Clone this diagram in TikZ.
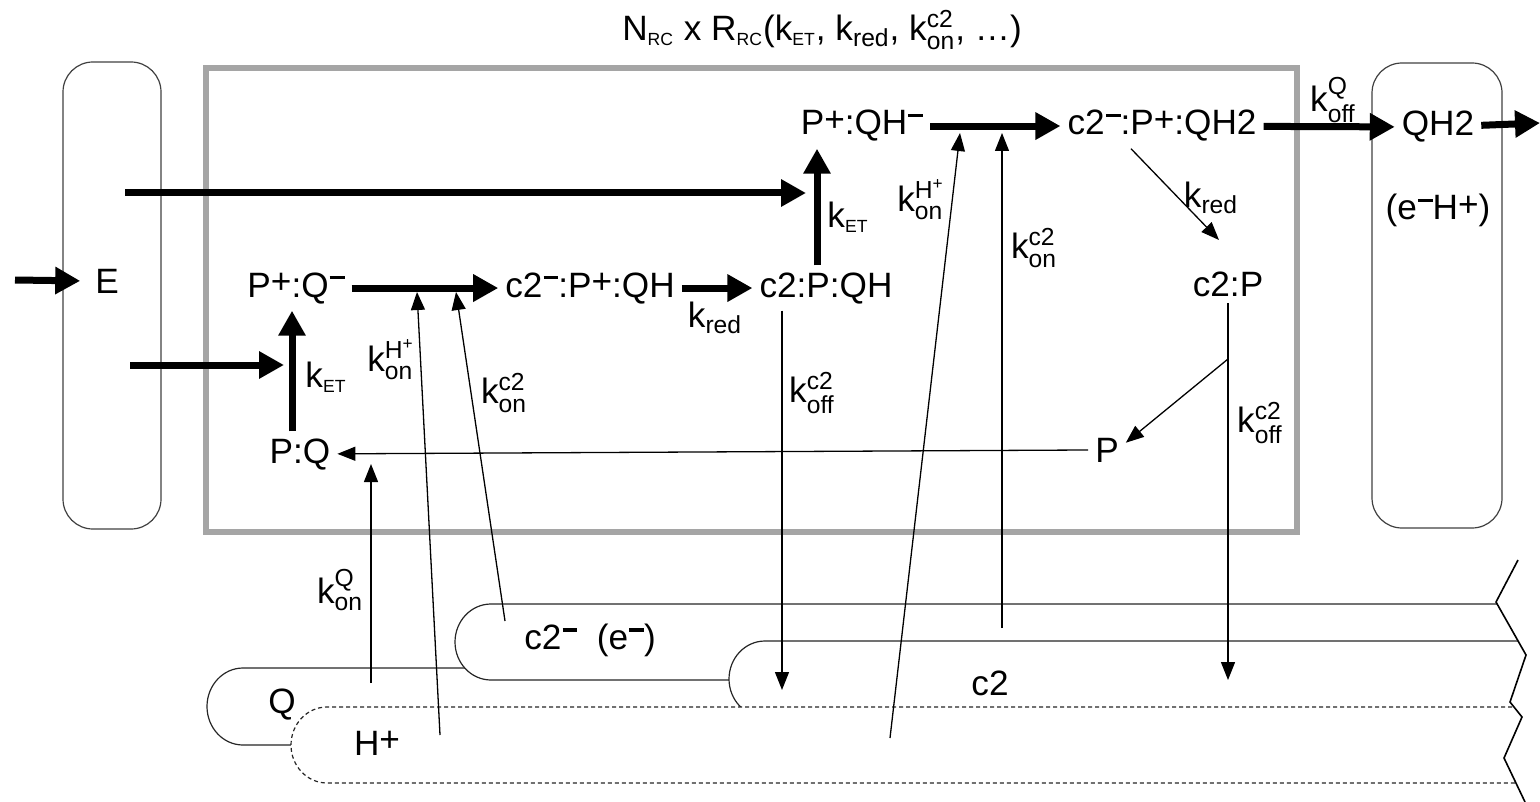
\documentclass[tikz,border=0pt]{standalone}
\usepackage{fontspec}
\setmainfont{Liberation Sans}
\usepackage{amsmath}
\usetikzlibrary{arrows.meta}
\definecolor{boxgray}{RGB}{165,165,165}
\newcommand{\ks}[1]{k$_{\text{#1}}$}
\newcommand{\ksm}[1]{k$_{\scriptscriptstyle\text{#1}}$}
\newcommand{\kr}[2]{k$_{\text{#1}}^{\text{#2}}$}
\newcommand{\chm}{\kern0.03em\rule[0.5em]{0.42em}{0.1em}}
\newcommand{\chp}{\raisebox{0.1em}{+}}
\tikzset{
  bigarrow/.style={line width=3.5pt,-{Triangle[length=12.5pt,width=13pt]}},
  thinarrow/.style={line width=0.65pt,-{Triangle[length=9pt,width=7pt]}},
  pool/.style={draw=black!75,line width=0.6pt,rounded corners=15pt},
  tube/.style={draw=black!85,fill=white,line width=0.6pt},
}
\begin{document}
\begin{tikzpicture}[x=0.5pt,y=-0.5pt,font=\fontsize{17.6}{21}\selectfont]
    \useasboundingbox (0,0) rectangle (1540,802);
    % Khung RC
    \draw[boxgray,line width=3pt] (206,68) rectangle (1297,532);
    % Bể E và QH2
    \draw[pool] (63,62) rectangle (161,529);
    \draw[pool] (1372,63) rectangle (1502,528);
    
    % Tiêu đề
    \node (title) at (822,30) {N$_{\scriptscriptstyle\text{RC}}$ x R$_{\scriptscriptstyle\text{RC}}$(\ksm{ET}, \ks{red}, \kr{on}{c2}, …)};
    
    % Các trạng thái
    \node[anchor=base] (E) at (107,293) {E};
    \node[anchor=base] (QH2) at (1438,136) {QH2};
    \node[anchor=base] (eH) at (1438,220) {(e\chm H\chp)};
    \node[anchor=base] (PQm) at (296,297) {P\chp:Q\chm};
    \node[anchor=base] (c2mPQH) at (590,297) {c2\chm:P\chp:QH};
    \node[anchor=base] (c2PQH) at (826,297) {c2:P:QH};
    \node[anchor=base] (PQ) at (300,463) {P:Q};
    \node[anchor=base] (PQHm) at (862,135) {P\chp:QH\chm};
    \node[anchor=base] (c2mPQH2) at (1162,135) {c2\chm:P\chp:QH2};
    \node[anchor=base] (c2P) at (1228,296) {c2:P};
    \node[anchor=base] (P) at (1107,462) {P};
    
    % Các hằng số tốc độ
    \node (kETlow) at (326,377) {\ksm{ET}};
    \node (kredA) at (715,318) {\ks{red}};
    \node (konHa) at (391,360) {\kr{on}{H\textsuperscript{+}}};
    \node (konCa) at (504,393) {\kr{on}{c2}};
    \node (koffA) at (812,393) {\kr{off}{c2}};
    \node (kETup) at (848,217) {\ksm{ET}};
    \node (konHb) at (921,200) {\kr{on}{H\textsuperscript{+}}};
    \node (konCb) at (1034,248) {\kr{on}{c2}};
    \node (kredB) at (1211,198) {\ks{red}};
    \node (koffB) at (1260,423) {\kr{off}{c2}};
    \node (koffQ) at (1333,100) {\kr{off}{Q}};
    \node (konQ) at (340,590) {\kr{on}{Q}};
    
    % Các bể phía dưới
    \begin{scope}
    \clip (0,560) -- (1518,560) -- (1496,602) -- (1526,655) -- (1510,702) -- (1522,717) -- (1504,758) -- (1525,802) -- (0,802) -- cycle;
    \foreach \l/\t/\b in {207/668/745, 455/604/680, 729/641/717}
    \filldraw[tube] (1540,\t) -- (\l+36,\t) arc[start angle=270,end angle=90,x radius=36,y radius={(\b-\t)/2}] -- (1540,\b);
    \filldraw[tube,dash pattern=on 2pt off 1.5pt] (1540,707) -- (327,707) arc[start angle=270,end angle=90,x radius=36,y radius=38] -- (1540,783);
    \end{scope}
    \draw[line width=0.8pt] (1518,560) -- (1496,602) -- (1526,655) -- (1510,702) -- (1522,717) -- (1504,758) -- (1525,802);
    \node (Qpool) at (282,705) {Q};
    \node (Hpool) at (377,743) {H\chp};
    \node (c2mpool) at (590,640) {c2\chm\ \ (e\chm)};
    \node (c2pool) at (990,683) {c2};
    
    % Điểm đầu mút
    \coordinate (inE) at (15,280);
    \coordinate (Eup) at (125,193);
    \coordinate (ETup) at (806,193);
    \coordinate (Elow) at (130,365);
    \coordinate (ETlow) at (284,365);
    \coordinate (QH2out) at (1540,123);
    \coordinate (onQ) at (371,683);
    \coordinate (onQE) at (371,464);
    \coordinate (onHa) at (440,735);
    \coordinate (onHaE) at (417,292);
    \coordinate (onCa) at (505,621);
    \coordinate (onCaE) at (456,292);
    \coordinate (onHb) at (890,738);
    \coordinate (onHbE) at (960,133);
    \coordinate (onCb) at (1002,628);
    \coordinate (onCbE) at (1002,133);
    \coordinate (offA) at (782,690);
    \coordinate (offB) at (1228,680);
    \coordinate (offBmid) at (1228,359);
    \coordinate (redE) at (1219,240);
    
    % Mũi tên đậm
    \draw[bigarrow] (inE) -- ([xshift=-4pt]E.west);
    \draw[bigarrow] (Eup) -- (ETup);
    \draw[bigarrow] (Elow) -- (ETlow);
    \draw[bigarrow] ([xshift=-4pt]PQ.north) -- ([xshift=-2pt]PQm.south);
    \draw[bigarrow] (PQm) -- (c2mPQH);
    \draw[bigarrow] (c2mPQH) -- (c2PQH);
    \draw[bigarrow] ([xshift=-4.5pt]c2PQH.north) -- ([xshift=-22.5pt]PQHm.south);
    \draw[bigarrow] (PQHm) -- (c2mPQH2);
    \draw[bigarrow] (c2mPQH2) -- (QH2);
    \draw[bigarrow] (QH2) -- (QH2out);
    
    % Mũi tên mảnh
    \draw[thinarrow] (onQ) -- (onQE);
    \draw[thinarrow] (onHa) -- (onHaE);
    \draw[thinarrow] (onCa) -- (onCaE);
    \draw[thinarrow] (onHb) -- (onHbE);
    \draw[thinarrow] (onCb) -- (onCbE);
    \draw[thinarrow] ([xshift=-22pt]c2PQH.south) -- (offA);
    \draw[thinarrow] (c2P.south) -- (offB);
    \draw[thinarrow] (offBmid) -- ([yshift=-6pt]P.north east);
    \draw[thinarrow] ([xshift=-15.5pt]c2mPQH2.south) -- (redE);
    \draw[thinarrow] (P) -- (PQ);
\end{tikzpicture}
\end{document}
